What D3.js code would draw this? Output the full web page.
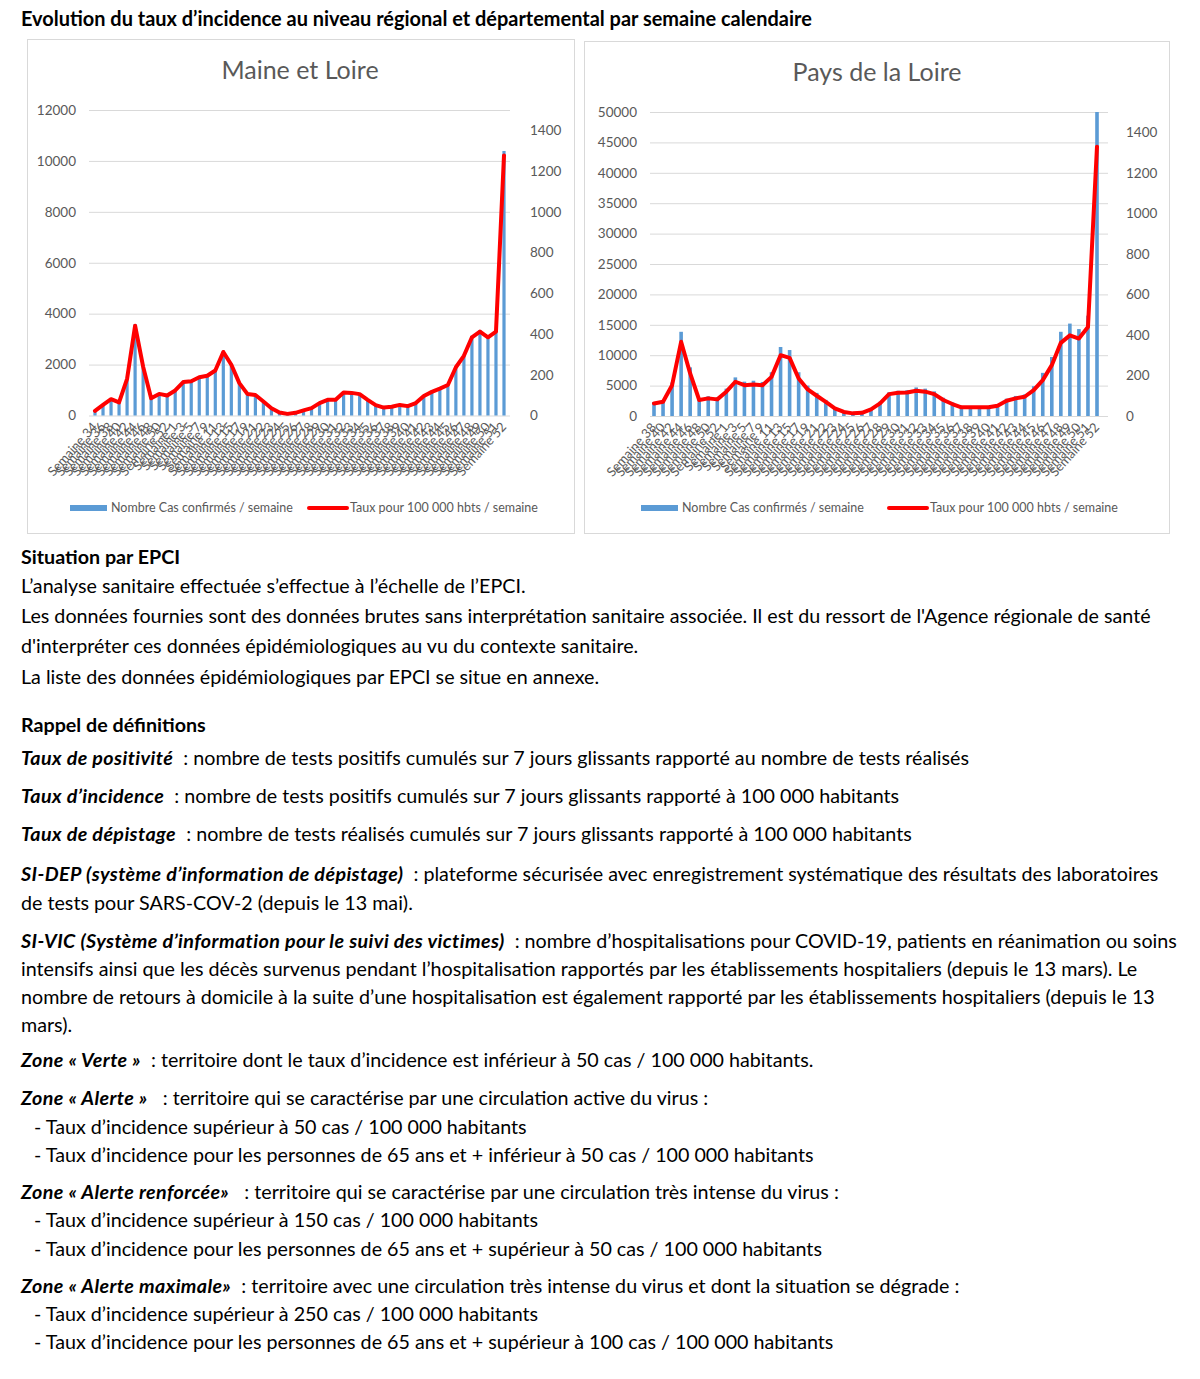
<!DOCTYPE html>
<html><head><meta charset="utf-8">
<script src="https://cdn.jsdelivr.net/npm/d3@7"></script>
<style>
body{margin:0;background:#fff}
text{font-family:Lato,'Open Sans',sans-serif}
</style>
</head><body>
<svg id="c" width="1200" height="1379"></svg>
<script>
// ---------- DATA ----------
const weeksMaine = [34,36,38,40,42,44,46,48,50,52,1,3,5,7,9,11,13,15,17,19,21,22,23,24,25,26,27,28,29,30,31,32,33,34,35,36,37,38,39,40,41,42,43,44,45,46,47,48,49,50,51,52];
const casesMaine = [190,420,650,520,1470,3590,1950,690,860,800,1000,1340,1370,1530,1590,1800,2540,2030,1300,860,820,560,290,120,65,105,205,290,500,630,630,920,900,860,630,415,320,350,425,375,500,780,945,1075,1220,1930,2390,3130,3360,3130,3360,10390];
const tauxMaine = [23,52,80,64,180,441,240,85,106,98,123,164,168,188,195,221,312,249,159,106,101,69,36,15,8,13,25,36,61,77,77,113,111,105,77,51,39,43,52,46,61,96,116,132,150,237,293,384,412,384,412,1277];

const weeksPays = [38,40,42,44,46,48,50,52,1,3,5,7,9,11,13,15,17,19,21,22,23,24,25,26,27,28,29,30,31,32,33,34,35,36,37,38,39,40,41,42,43,44,45,46,47,48,49,50,51,52];
const casesPays = [2300,2500,5500,13850,8000,2900,3250,3050,4500,6350,5650,5800,5600,7200,11350,10850,7200,5000,3800,2650,1450,760,500,600,1250,2350,3900,4150,4250,4700,4500,4050,3000,2250,1650,1600,1600,1600,1950,2850,3300,3550,4900,7100,9700,13850,15200,14300,16500,50000];
const tauxPays = [62,70,152,366,210,79,87,82,120,169,152,156,152,193,300,287,185,131,100,70,38,20,13,16,33,62,108,115,116,125,120,108,79,59,43,43,43,43,51,75,87,95,128,177,251,361,398,382,439,1329];

const ticksMaineLeft = [0,2000,4000,6000,8000,10000,12000];
const ticksPaysLeft = [0,5000,10000,15000,20000,25000,30000,35000,40000,45000,50000];
const ticksRight = [0,200,400,600,800,1000,1200,1400];

const legendBars = 'Nombre Cas confirmés / semaine';
const legendLine = 'Taux pour 100 000 hbts / semaine';

// ---------- DRAW ----------
const svg = d3.select('#c');
svg.append('rect').attr('width',1200).attr('height',1379).attr('fill','#fff');

function fit(sel, target){
  const w = sel.node().getComputedTextLength();
  const fs = +sel.attr('font-size');
  sel.attr('font-size', fs*target/w);
}

const head = svg.append('text').attr('x',21).attr('y',26).attr('font-weight','bold')
  .attr('font-size',17).attr('fill','#000')
  .text('Evolution du taux d’incidence au niveau régional et départemental par semaine calendaire');
fit(head, 791);

const GREY = '#595959', GRID = '#D9D9D9', BLUE = '#5B9BD5', RED = '#FF0000';

function drawChart(o){
  const g = svg.append('g');
  g.append('rect').attr('x',o.box[0]+0.5).attr('y',o.box[1]+0.5)
    .attr('width',o.box[2]-o.box[0]).attr('height',o.box[3]-o.box[1])
    .attr('fill','#fff').attr('stroke',GRID).attr('stroke-width',1);
  g.append('text').attr('x',o.titleX).attr('y',o.titleY).attr('text-anchor','middle')
    .attr('font-size',25).attr('fill',GREY).text(o.title);

  const idx = d3.range(o.weeks.length);
  const x = d3.scalePoint().domain(idx).range([o.c0,o.c1]);
  const yL = d3.scaleLinear().domain([0,o.maxL]).range([o.yb,o.yt]);
  const yR = d3.scaleLinear().domain([0,1500]).range([o.yb,o.yt]);

  const axL = d3.axisLeft(yL).tickValues(o.ticksL).tickSize(-(o.g1-o.g0)).tickPadding(13).tickFormat(d3.format('d'));
  const gl = g.append('g').attr('transform',`translate(${o.g0},0)`).call(axL);
  gl.select('.domain').remove();
  gl.selectAll('.tick line').attr('stroke',GRID).attr('stroke-width',1);
  gl.selectAll('.tick text').attr('fill',GREY).attr('font-size',13.5).attr('font-family','Lato');

  const axR = d3.axisRight(yR).tickValues(ticksRight).tickSize(0).tickPadding(o.rPad).tickFormat(d3.format('d'));
  const gr = g.append('g').attr('transform',`translate(${o.g1},0)`).call(axR);
  gr.select('.domain').remove();
  gr.selectAll('.tick text').attr('fill',GREY).attr('font-size',13.5).attr('font-family','Lato');

  g.append('g').selectAll('rect').data(o.cases).join('rect')
    .attr('x',(d,i)=>x(i)-o.bw/2).attr('width',o.bw)
    .attr('y',d=>yL(Math.min(d,o.maxL))).attr('height',d=>o.yb-yL(Math.min(d,o.maxL)))
    .attr('fill',BLUE);

  const line = d3.line().x((d,i)=>x(i)).y(d=>yR(d));
  g.append('path').datum(o.taux).attr('d',line).attr('fill','none')
    .attr('stroke',RED).attr('stroke-width',4).attr('stroke-linejoin','round').attr('stroke-linecap','round');

  g.append('g').selectAll('text').data(o.weeks).join('text')
    .attr('transform',(d,i)=>`translate(${x(i)+3},${o.yb+12}) rotate(-48)`)
    .attr('text-anchor','end').attr('font-size',13).attr('fill',GREY)
    .text(d=>'Semaine '+d);

  // legend
  g.append('rect').attr('x',o.leg[0]).attr('y',505).attr('width',37).attr('height',6).attr('fill',BLUE);
  g.append('text').attr('x',o.leg[0]+41).attr('y',512).attr('font-size',12.5).attr('fill',GREY).text(legendBars);
  g.append('line').attr('x1',o.leg[1]).attr('x2',o.leg[1]+38).attr('y1',508).attr('y2',508)
    .attr('stroke',RED).attr('stroke-width',4).attr('stroke-linecap','round');
  g.append('text').attr('x',o.leg[1]+41).attr('y',512).attr('font-size',12.5).attr('fill',GREY).text(legendLine);
}

drawChart({box:[27,39,574,533], title:'Maine et Loire', titleX:300, titleY:79,
  weeks:weeksMaine, cases:casesMaine, taux:tauxMaine, maxL:12000, ticksL:ticksMaineLeft,
  c0:95, c1:504, g0:89, g1:510, yb:415.5, yt:110, bw:3.2, rPad:20, leg:[70,309]});
drawChart({box:[584,41,1169,533], title:'Pays de la Loire', titleX:877, titleY:81,
  weeks:weeksPays, cases:casesPays, taux:tauxPays, maxL:50000, ticksL:ticksPaysLeft,
  c0:654, c1:1097, g0:650, g1:1108, yb:416, yt:112, bw:3.6, rPad:18, leg:[641,889]});

// ---------- TEXT BODY ----------
const B = 'b', BI = 'bi', N = 'n';
const body = [
  {y:564, x:21, p:[[B,'Situation par EPCI']]},
  {y:593, x:21, p:[[N,'L’analyse sanitaire effectuée s’effectue à l’échelle de l’EPCI.']]},
  {y:623, x:21, p:[[N,'Les données fournies sont des données brutes sans interprétation sanitaire associée. Il est du ressort de l\'Agence régionale de santé']], ref:true},
  {y:653, x:21, p:[[N,'d\'interpréter ces données épidémiologiques au vu du contexte sanitaire.']]},
  {y:684, x:21, p:[[N,'La liste des données épidémiologiques par EPCI se situe en annexe.']]},
  {y:732, x:21, p:[[B,'Rappel de définitions']]},
  {y:765, x:21, p:[[BI,'Taux de positivité'],[N,'  : nombre de tests positifs cumulés sur 7 jours glissants rapporté au nombre de tests réalisés']]},
  {y:803, x:21, p:[[BI,'Taux d’incidence'],[N,'  : nombre de tests positifs cumulés sur 7 jours glissants rapporté à 100 000 habitants']]},
  {y:841, x:21, p:[[BI,'Taux de dépistage'],[N,'  : nombre de tests réalisés cumulés sur 7 jours glissants rapporté à 100 000 habitants']]},
  {y:881, x:21, p:[[BI,'SI-DEP (système d’information de dépistage)'],[N,'  : plateforme sécurisée avec enregistrement systématique des résultats des laboratoires']]},
  {y:910, x:21, p:[[N,'de tests pour SARS-COV-2 (depuis le 13 mai).']]},
  {y:948, x:21, p:[[BI,'SI-VIC (Système d’information pour le suivi des victimes)'],[N,'  : nombre d’hospitalisations pour COVID-19, patients en réanimation ou soins']]},
  {y:976, x:21, p:[[N,'intensifs ainsi que les décès survenus pendant l’hospitalisation rapportés par les établissements hospitaliers (depuis le 13 mars). Le']]},
  {y:1004, x:21, p:[[N,'nombre de retours à domicile à la suite d’une hospitalisation est également rapporté par les établissements hospitaliers (depuis le 13']]},
  {y:1032, x:21, p:[[N,'mars).']]},
  {y:1067, x:21, p:[[BI,'Zone « Verte »'],[N,'  : territoire dont le taux d’incidence est inférieur à 50 cas / 100 000 habitants.']]},
  {y:1105, x:21, p:[[BI,'Zone « Alerte »'],[N,'   : territoire qui se caractérise par une circulation active du virus :']]},
  {y:1134, x:34, p:[[N,'- Taux d’incidence supérieur à 50 cas / 100 000 habitants']]},
  {y:1162, x:34, p:[[N,'- Taux d’incidence pour les personnes de 65 ans et + inférieur à 50 cas / 100 000 habitants']]},
  {y:1199, x:21, p:[[BI,'Zone « Alerte renforcée»'],[N,'   : territoire qui se caractérise par une circulation très intense du virus :']]},
  {y:1227, x:34, p:[[N,'- Taux d’incidence supérieur à 150 cas / 100 000 habitants']]},
  {y:1256, x:34, p:[[N,'- Taux d’incidence pour les personnes de 65 ans et + supérieur à 50 cas / 100 000 habitants']]},
  {y:1293, x:21, p:[[BI,'Zone « Alerte maximale»'],[N,'  : territoire avec une circulation très intense du virus et dont la situation se dégrade :']]},
  {y:1321, x:34, p:[[N,'- Taux d’incidence supérieur à 250 cas / 100 000 habitants']]},
  {y:1349, x:34, p:[[N,'- Taux d’incidence pour les personnes de 65 ans et + supérieur à 100 cas / 100 000 habitants']]}
];
const bg = svg.append('g').attr('font-size',18).attr('fill','#000');
let refNode = null;
body.forEach(l=>{
  const t = bg.append('text').attr('x',l.x).attr('y',l.y).attr('xml:space','preserve').style('white-space','pre');
  l.p.forEach(([s,txt])=>{
    const ts = t.append('tspan').text(txt);
    if(s===B) ts.attr('font-weight','bold');
    if(s===BI) ts.attr('font-weight','bold').attr('font-style','italic').attr('letter-spacing',0.4);
  });
  if(l.ref) refNode = t.node();
});
const wref = refNode.getComputedTextLength();
bg.attr('font-size', 18*1130/wref);
</script>
</body></html>
